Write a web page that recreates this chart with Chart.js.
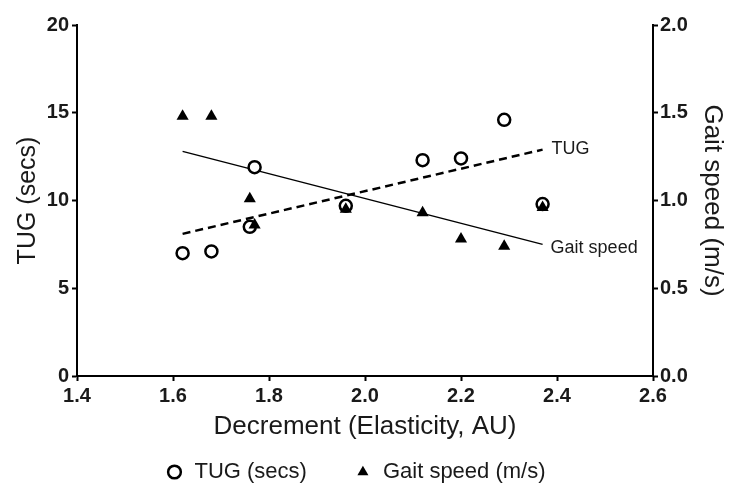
<!DOCTYPE html>
<html>
<head>
<meta charset="utf-8">
<title>TUG and gait speed vs decrement</title>
<script src="https://cdn.jsdelivr.net/npm/chart.js@4.4.1/dist/chart.umd.min.js"></script>
<style>
  html, body { margin: 0; padding: 0; background: #fff; }
</style>
</head>
<body>
<canvas id="chart" width="731" height="495"></canvas>
<script>
// Values, one entry per subject
const decrement = [1.62, 1.68, 1.76, 1.77, 1.96, 2.12, 2.20, 2.29, 2.37];
const tugSecs = [7.0, 7.1, 8.5, 11.9, 9.7, 12.3, 12.4, 14.6, 9.8];
const gaitSpeed = [1.48, 1.48, 1.01, 0.86, 0.95, 0.93, 0.78, 0.74, 0.96];

// End points of the two regression lines
const fitX = [1.62, 2.37];
const tugFit = [8.1, 12.9];
const gaitFit = [1.28, 0.75];

// Tick labels
const xTicks = [1.4, 1.6, 1.8, 2.0, 2.2, 2.4, 2.6];
const tugTicks = [0, 5, 10, 15, 20];
const gaitTicks = [0, 0.5, 1.0, 1.5, 2.0];

const FONT = '"Liberation Sans", Arial, sans-serif';
const INK = '#1a1a1a';

// zip two arrays into {x, y} points
function toPoints(xs, ys) {
    return xs.map((x, i) => ({ x: x, y: ys[i] }));
}

// Writes "TUG" / "Gait speed" next to the end of each fit line
const fitLabels = {
    id: 'fitLabels',
    afterDatasetsDraw(chart) {
        const ctx = chart.ctx;
        ctx.save();
        ctx.font = '18px ' + FONT;
        ctx.fillStyle = INK;
        ctx.textBaseline = 'middle';
        chart.data.datasets.forEach((ds, i) => {
            if (!ds.fitLabel) return;
            const pts = chart.getDatasetMeta(i).data;
            const end = pts[pts.length - 1];
            ctx.fillText(ds.fitLabel, end.x + ds.labelDx, end.y + ds.labelDy);
        });
        ctx.restore();
    }
};

const tickFont = { family: FONT, size: 20, weight: 'bold' };
const axisGrid = { drawOnChartArea: false, tickLength: 5, tickWidth: 2, tickColor: '#000' };
const axisBorder = { color: '#000', width: 2 };

new Chart(document.getElementById('chart'), {
    type: 'scatter',
    data: {
        datasets: [
            {
                label: 'TUG (secs)',
                data: toPoints(decrement, tugSecs),
                yAxisID: 'yTug',
                pointStyle: 'circle',
                pointRadius: 6,
                pointBorderWidth: 2.5,
                pointBorderColor: '#000',
                pointBackgroundColor: '#fff',
                borderColor: '#000',
                backgroundColor: '#fff',
                order: 1
            },
            {
                label: 'Gait speed (m/s)',
                data: toPoints(decrement, gaitSpeed),
                yAxisID: 'yGait',
                pointStyle: 'triangle',
                pointRadius: 7,
                pointBorderWidth: 0,
                pointBackgroundColor: '#000',
                borderColor: '#000',
                backgroundColor: '#000',
                order: 0
            },
            {
                label: 'TUG fit',
                fitLabel: 'TUG', labelDx: 9, labelDy: -1,
                data: toPoints(fitX, tugFit),
                yAxisID: 'yTug',
                showLine: true,
                pointRadius: 0,
                borderColor: '#000',
                borderWidth: 2.5,
                borderDash: [8, 5],
                order: 2
            },
            {
                label: 'Gait fit',
                fitLabel: 'Gait speed', labelDx: 8, labelDy: 4,
                data: toPoints(fitX, gaitFit),
                yAxisID: 'yGait',
                showLine: true,
                pointRadius: 0,
                borderColor: '#000',
                borderWidth: 1.5,
                order: 2
            }
        ]
    },
    options: {
        responsive: false,
        animation: false,
        devicePixelRatio: 1,
        // right padding nudges the centred legend a little to the left, like the original
        layout: { padding: { top: 25, left: 0, right: 20, bottom: 2 } },
        plugins: {
            tooltip: { enabled: false },
            legend: {
                position: 'bottom',
                labels: {
                    usePointStyle: true,
                    boxWidth: 18,
                    boxHeight: 9,
                    padding: 47,
                    color: INK,
                    font: { family: FONT, size: 22 },
                    filter: (item, data) => !data.datasets[item.datasetIndex].fitLabel,
                    sort: (a, b) => a.datasetIndex - b.datasetIndex
                }
            }
        },
        scales: {
            x: {
                type: 'linear',
                min: 1.4,
                max: 2.6,
                afterBuildTicks: s => { s.ticks = xTicks.map(v => ({ value: v })); },
                afterFit: s => { s.height = 38; },
                ticks: { font: tickFont, color: INK, padding: 3, maxRotation: 0, autoSkip: false,
                         callback: v => v.toFixed(1) },
                grid: axisGrid,
                border: axisBorder,
                title: { display: true, text: 'Decrement (Elasticity, AU)', color: INK,
                         font: { family: FONT, size: 26 }, padding: { top: 0, bottom: -28 } }
            },
            yTug: {
                type: 'linear',
                position: 'left',
                min: 0,
                max: 20,
                afterBuildTicks: s => { s.ticks = tugTicks.map(v => ({ value: v })); },
                afterFit: s => { s.width = 77; },
                ticks: { font: tickFont, color: INK, padding: 3, callback: v => String(v) },
                grid: axisGrid,
                border: axisBorder,
                title: { display: true, text: 'TUG (secs)', color: INK,
                         font: { family: FONT, size: 25 }, padding: { top: 13, bottom: 0 } }
            },
            yGait: {
                type: 'linear',
                position: 'right',
                min: 0,
                max: 2,
                afterBuildTicks: s => { s.ticks = gaitTicks.map(v => ({ value: v })); },
                afterFit: s => { s.width = 58; },
                ticks: { font: tickFont, color: INK, padding: 2, callback: v => v.toFixed(1) },
                grid: axisGrid,
                border: axisBorder,
                title: { display: true, text: 'Gait speed (m/s)', color: INK,
                         font: { family: FONT, size: 26 }, padding: { top: -17, bottom: 0 } }
            }
        }
    },
    plugins: [fitLabels]
});
</script>
</body>
</html>
